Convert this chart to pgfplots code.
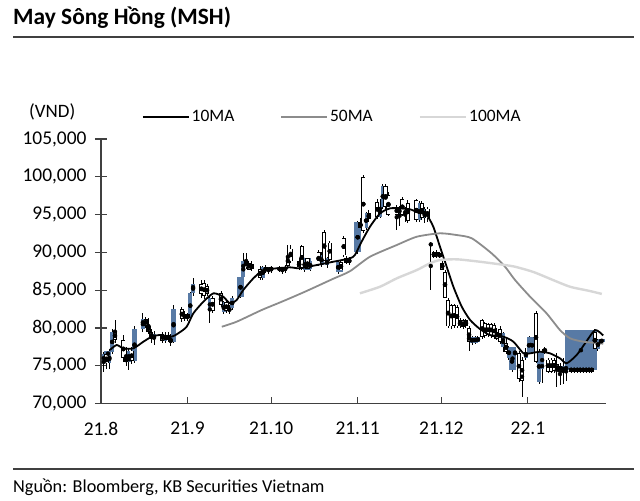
\documentclass[border=0pt]{standalone}
\usepackage{fontspec}
\setmainfont{Carlito}
\usepackage{pgfplots}
\usepackage{pgfplotstable}
\pgfplotsset{compat=1.18}
\definecolor{kbblue}{RGB}{88,122,165}
\definecolor{axgray}{RGB}{64,64,64}
\definecolor{ma50}{RGB}{140,140,140}
\definecolor{ma100}{RGB}{215,215,215}

% up candles (close > open): blue bodies
\pgfplotstableread{
d o h l c
1 75500 76800 74200 76500
3 75300 77200 74600 76800
4 76800 79800 76500 79500
10 75500 77300 74400 77000
12 75600 80200 75400 79800
15 79800 82000 79500 81200
19 78500 79600 77800 79200
23 78300 79400 78000 79000
26 78200 83000 78000 82500
30 81200 82200 80900 81800
32 81300 84800 81100 84600
33 84600 86600 84200 85800
39 82200 84300 80600 84000
44 82100 83500 81800 83400
46 82200 83000 81900 82600
47 82600 84200 82400 84000
50 84100 86800 83900 86700
51 86700 89900 86500 88800
58 86600 88200 86400 88000
60 87500 88100 87200 88000
64 87600 88200 87400 88000
66 87500 88300 87300 88100
73 87600 89300 87400 89200
75 87800 89000 87500 88800
79 88300 90000 88100 89600
81 88300 89400 87900 89200
85 87400 88800 87200 88700
89 88600 89400 88300 89200
92 90000 94200 89800 94000
95 93200 95400 93000 95200
100 94700 97000 94500 96000
101 96000 99000 95800 98800
107 95000 96200 93500 95900
109 95000 96000 94000 95600
114 94300 96800 94000 96500
116 94600 96000 93900 95800
118.2 90900 91400 85000 91200
133.0 78000 78900 77800 78800
134.1 78100 78900 77900 78700
135.1 78200 78900 78000 78800
144.1 77500 79500 76800 79300
146.2 76000 77600 75800 77500
147.3 74400 77000 74200 76700
148.4 76500 77300 76000 77000
152.3 76000 77300 75800 76800
153.4 76700 78900 76500 78700
154.5 76800 78800 76600 78600
157.0 72800 77200 72600 77000
158.1 74500 77200 72700 77000
165.6 74200 76000 72600 75000
178.1 77200 78600 77000 78400
179.2 78000 78600 77900 78500
}\upc

% down candles (close < open): hollow bodies
\pgfplotstableread{
d o h l c
2 76500 77000 74500 75300
5 79500 81000 78000 78400
8 78400 79000 75500 76000
9 76000 77500 75000 75500
11 77000 77500 75200 75600
16 81200 81400 80000 80300
17 80300 81300 79200 79500
18 79500 79800 78000 78500
22 79200 79500 78000 78300
24 79000 79500 78100 78400
25 78400 79200 77600 78200
29 82500 82800 80800 81200
31 81800 82000 80900 81300
36 85800 86400 84000 84500
37 85900 86300 83800 84200
38 85500 85800 84200 84500
40 84000 84200 82000 82300
43 84600 84900 82800 83000
45 83400 83600 82000 82200
52 89000 89900 87800 88000
53 88600 88900 87600 87700
54 88400 88800 87500 87800
57 87800 88200 86300 86600
59 88000 88300 87300 87500
61 88000 88200 87300 87600
65 88000 88100 87200 87500
67 89500 91000 87800 88200
68 90500 91000 88600 88800
71 88800 89200 87600 88000
72 90800 91000 87600 87900
74 89200 89300 87600 87800
78 90000 90300 88200 88300
80 92700 93000 88800 88900
82 91300 91500 88800 89000
86 88700 88900 87400 87600
87 91900 92200 89400 89600
88 89300 89500 88400 88600
93 94000 94500 92800 93200
94 100000 100200 92500 92800
96 95200 95600 94000 94400
99 96700 97000 94400 94700
102 98800 99000 95500 96000
103 97600 98000 94800 95000
106 96000 96300 93000 95000
108 97000 97300 94800 95000
110 96500 96900 93900 94200
113 96900 97000 94000 94300
115 96500 96800 94300 94600
117 95800 96000 94000 94500
119.3 90000 90200 89300 89400
120.4 90000 90300 89200 89500
121.4 89900 90000 89200 89400
122.3 88600 88800 87600 87700
123.3 87400 87600 83900 84000
124.4 83700 84000 80000 80200
125.5 83000 83200 79900 80200
126.6 83000 83200 80000 80300
127.6 82800 83000 80000 80200
128.7 81000 81300 80000 80200
129.8 81000 81200 79900 80100
130.8 81000 81200 80000 80300
131.9 80000 80200 77000 78200
136.6 81000 81200 78600 78800
137.6 80600 80800 78700 78900
138.7 80500 80700 78800 79000
139.8 80500 80700 78700 79000
140.9 80400 80600 78600 78800
141.9 79500 80000 78400 78600
143.0 79900 80200 77900 78100
145.2 78000 78500 76500 76800
149.8 76700 77000 72900 73200
150.9 75800 76200 70900 73000
155.9 82000 82200 75300 75500
159.1 77200 77500 76600 76800
160.2 75800 76000 74000 74200
161.3 75800 76000 74000 74200
162.4 75800 76000 74000 74300
163.4 75200 76700 72200 74300
164.5 75000 75300 72500 74200
166.7 74800 75500 73000 74500
168.5 74700 74800 74100 74200
169.6 74700 74800 74100 74200
170.7 74700 74800 74100 74200
171.7 74700 74800 74100 74200
172.8 74700 74800 74100 74200
173.9 74700 74800 74100 74200
174.9 74700 74800 74100 74200
175.9 74700 74800 74100 74200
177.0 79500 79800 77000 77200
}\downc

% wider blue bodies
\pgfplotstableread{
d lo hi
2.5 76200 77000
44.5 82200 83400
50 84100 86700
74 87600 89200
85.5 87400 88700
92 90000 94000
134 78000 78800
147.5 74400 77500
154 76700 78800
179.5 78100 78500
}\widec

\pgfplotsset{
  candle/.style={forget plot, only marks, mark=none,
    error bars/.cd, y dir=both, y explicit, error mark=none,
    error bar style={#1}},
}

\begin{document}
\begin{tikzpicture}
\useasboundingbox (0bp,0bp) rectangle (640bp,501bp);
\node[anchor=west, inner sep=0pt, font=\bfseries\fontsize{23.5}{28}\selectfont] at (13bp,483bp) {May Sông Hồng (MSH)};
\draw[axgray, line width=1.5bp] (13bp,464bp) -- (634bp,464bp);
\node[anchor=west, inner sep=0pt, font=\fontsize{19}{22}\selectfont] at (29bp,389bp) {(VND)};
\draw[axgray, line width=1.2bp] (13bp,32bp) -- (634bp,32bp);
\node[anchor=west, inner sep=0pt, font=\fontsize{18.3}{21}\selectfont] at (13bp,14bp) {Nguồn: Bloomberg, KB Securities Vietnam};

\begin{axis}[
  at={(101bp,97.5bp)}, anchor=south west,
  scale only axis, width=505bp, height=264.5bp,
  xmin=0, xmax=181, ymin=70000, ymax=105000,
  axis x line*=bottom, axis y line*=left,
  axis line style={axgray, line width=1.2bp, -},
  xtick={0,31,61,92,122,153},
  xticklabels={21.8,21.9,21.10,21.11,21.12,22.1},
  ytick={70000,75000,80000,85000,90000,95000,100000,105000},
  scaled y ticks=false,
  /pgf/number format/assume math mode=true,
  yticklabel style={/pgf/number format/fixed, /pgf/number format/precision=0, /pgf/number format/1000 sep={,}},
  tick label style={font=\fontsize{19.5}{23}\selectfont, text=black},
  yticklabel style={anchor=east, xshift=-8bp},
  xticklabel style={yshift=-15bp},
  tick style={axgray, line width=1.2bp},
  major tick length=6bp,
  xtick align=inside,
  ytick align=center,
  ytick style={/pgfplots/major tick length=12bp},
  legend style={draw=none, fill=none, at={(0.458,1.083)}, anchor=center,
    legend columns=3, font=\fontsize{17.5}{20}\selectfont,
    /tikz/every even column/.append style={column sep=44bp}},
  legend image code/.code={\draw[#1] (0bp,0bp) -- (46bp,0bp);},
]
% wicks
\addplot[candle={draw=black, line width=0.9bp}] table[x=d, y expr=(\thisrow{h}+\thisrow{l})/2, y error expr=(\thisrow{h}-\thisrow{l})/2] {\upc};
\addplot[candle={draw=black, line width=0.9bp}] table[x=d, y expr=(\thisrow{h}+\thisrow{l})/2, y error expr=(\thisrow{h}-\thisrow{l})/2] {\downc};
% large blue block
\addplot[candle={draw=kbblue, line width=32bp}] coordinates {(172,77050) +- (0,2650)};
% wide blue bodies
\addplot[candle={draw=kbblue, line width=7bp}] table[x=d, y expr=(\thisrow{lo}+\thisrow{hi})/2, y error expr=(\thisrow{hi}-\thisrow{lo})/2] {\widec};
% blue bodies
\addplot[candle={draw=kbblue, line width=4.2bp}] table[x=d, y expr=(\thisrow{o}+\thisrow{c})/2, y error expr=(\thisrow{c}-\thisrow{o})/2] {\upc};
% hollow bodies
\addplot[candle={draw=black, line width=4.2bp}] table[x=d, y expr=(\thisrow{o}+\thisrow{c})/2, y error expr=(\thisrow{o}-\thisrow{c})/2] {\downc};
\addplot[candle={draw=white, line width=2.5bp}] table[x=d, y expr=(\thisrow{o}+\thisrow{c})/2, y error expr={max(0,(\thisrow{o}-\thisrow{c})/2-110)}] {\downc};

% moving averages
\addplot[black, line width=1.8bp, no marks, smooth, tension=0.4] coordinates {
(3.2,77080) (5.6,77740) (8.0,77300) (11.6,77300) (15.2,78180) (18.2,78840) (21.1,79060) (25.3,78840) (27.7,79290) (30.7,80160) (33.1,81930) (36.7,83470) (40.3,84580) (43.8,84130) (46.2,83260) (48.6,83690) (51.0,85020) (54.6,86560) (58.2,87660) (63.0,87890) (67.7,88020) (71.3,87890) (77.3,88320) (83.3,88760) (89.2,89210) (91.0,89650) (93.4,91410) (96.4,93390) (100.0,95160) (103.6,95820) (107.2,95820) (110.8,95690) (113.5,95300) (116.7,94940) (119.1,93390) (121.5,90740) (123.9,88100) (126.3,85450) (129.3,82810) (132.3,81050) (135.8,79860) (139.4,79060) (144.2,78840) (147.8,78180) (151.4,76640) (153.8,76640) (157.3,76850) (160.9,76640) (164.5,75980) (166.9,75320) (170.5,76420) (173.5,77960) (177.1,79720) (180,79000)
};
\addlegendentry{10MA}
\addplot[ma50, line width=1.8bp, no marks, smooth, tension=0.4] coordinates {
(43.3,80160) (48.6,80820) (57.6,82370) (64.8,83470) (73.1,84790) (83.2,86500) (89.2,87500) (96.4,89420) (106.0,90970) (113.2,92070) (121.5,92520) (127.5,92290) (132.9,91860) (140.0,89870) (144.8,88100) (148.4,86340) (153.8,84130) (159.7,81930) (164.5,79720) (168.1,78630) (172.8,78180) (178.9,77960) (180,77900)
};
\addlegendentry{50MA}
\addplot[ma100, line width=2.4bp, no marks, smooth, tension=0.4] coordinates {
(92.8,84580) (100.0,85450) (106.0,86560) (113.2,87660) (117.9,88550) (121.5,88980) (127.5,89080) (135.8,88760) (144.8,88320) (148.4,88100) (155,87400) (162.0,86340) (168.1,85450) (175,84900) (179.5,84500)
};
\addlegendentry{100MA}
\end{axis}
\end{tikzpicture}
\end{document}
